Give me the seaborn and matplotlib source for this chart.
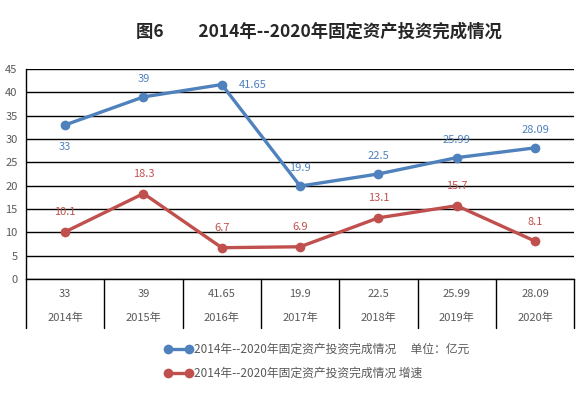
import pandas as pd
import matplotlib
matplotlib.use("Agg")
import matplotlib.pyplot as plt
import matplotlib.transforms as mtransforms
import seaborn as sns

# chart data
years = ["2014年", "2015年", "2016年", "2017年", "2018年", "2019年", "2020年"]
invest = [33, 39, 41.65, 19.9, 22.5, 25.99, 28.09]
growth = [10.1, 18.3, 6.7, 6.9, 13.1, 15.7, 8.1]
invest_labels = ["33", "39", "41.65", "19.9", "22.5", "25.99", "28.09"]
growth_labels = ["10.1", "18.3", "6.7", "6.9", "13.1", "15.7", "8.1"]
name_invest = "2014年--2020年固定资产投资完成情况　 单位：亿元"
name_growth = "2014年--2020年固定资产投资完成情况 增速"
title = "图6　　2014年--2020年固定资产投资完成情况"

blue = "#4F81BD"
red = "#C0504D"
gray = "#595959"

df = pd.DataFrame({
    "pos": list(range(len(years))) * 2,
    "value": invest + growth,
    "series": [name_invest] * len(years) + [name_growth] * len(years),
})

sns.set_style("white")
plt.rcParams["font.family"] = ["Noto Sans CJK SC", "DejaVu Sans"]

fig = plt.figure(figsize=(5.87, 3.96), dpi=100)
ax = fig.add_axes([0.0443, 0.2955, 0.934, 0.5305])

sns.lineplot(data=df, x="pos", y="value", hue="series",
             palette={name_invest: blue, name_growth: red},
             marker="o", markersize=7, markeredgewidth=0, linewidth=2.4,
             legend=False, ax=ax)

ax.set_xlim(-0.5, len(years) - 0.5)
ax.set_ylim(0, 45)
ax.set_yticks(range(0, 46, 5))
ax.set_xticks([])
ax.set_xlabel("")
ax.set_ylabel("")
ax.grid(axis="y", color="black", linewidth=1)
ax.set_axisbelow(True)
for s in ["top", "right"]:
    ax.spines[s].set_visible(False)
ax.spines["left"].set_color("black")
ax.spines["bottom"].set_color("black")
ax.spines["left"].set_linewidth(1)
ax.spines["bottom"].set_linewidth(1)
ax.tick_params(axis="y", labelsize=8, colors=gray, length=0, pad=6)

# data labels
for i, (v, t) in enumerate(zip(invest, invest_labels)):
    if i == 0:
        ax.annotate(t, (i, v), xytext=(0, -16), textcoords="offset points",
                    ha="center", va="center", color=blue, fontsize=8)
    elif i == 2:
        ax.annotate(t, (i, v), xytext=(22, 0), textcoords="offset points",
                    ha="center", va="center", color=blue, fontsize=8)
    else:
        ax.annotate(t, (i, v), xytext=(0, 13), textcoords="offset points",
                    ha="center", va="center", color=blue, fontsize=8)
for i, (v, t) in enumerate(zip(growth, growth_labels)):
    ax.annotate(t, (i, v), xytext=(0, 14), textcoords="offset points",
                ha="center", va="center", color=red, fontsize=8)

# data table under the axis
trans = mtransforms.blended_transform_factory(ax.transData, fig.transFigure)
y_top = 1 - 279 / 396
y_bot = 1 - 328 / 396
for b in range(len(years) + 1):
    ax.plot([b - 0.5, b - 0.5], [y_top, y_bot], color="black", linewidth=1,
            transform=trans, clip_on=False)
for i, (t, yr) in enumerate(zip(invest_labels, years)):
    ax.text(i, 1 - 294 / 396, t, transform=trans, ha="center", va="center",
            fontsize=8, color=gray)
    ax.text(i, 1 - 318 / 396, yr, transform=trans, ha="center", va="center",
            fontsize=8, color=gray)

# legend
handles = [
    plt.Line2D([], [], color=blue, marker="o", markersize=7, linewidth=2.4,
               markeredgewidth=0),
    plt.Line2D([], [], color=red, marker="o", markersize=7, linewidth=2.4,
               markeredgewidth=0),
]
leg = fig.legend(handles, [name_invest, name_growth], loc="upper left",
                 bbox_to_anchor=(0.272, 1 - 338 / 396), frameon=False,
                 numpoints=2, handlelength=2.4, handletextpad=0.1,
                 labelspacing=0.95, fontsize=8.5, borderaxespad=0)
for txt in leg.get_texts():
    txt.set_color(gray)

fig.text(0.544, 1 - 32 / 396, title, ha="center", va="center",
         fontsize=12.5, fontweight="bold", color="#262626")

fig.savefig("out.png", dpi=100)
